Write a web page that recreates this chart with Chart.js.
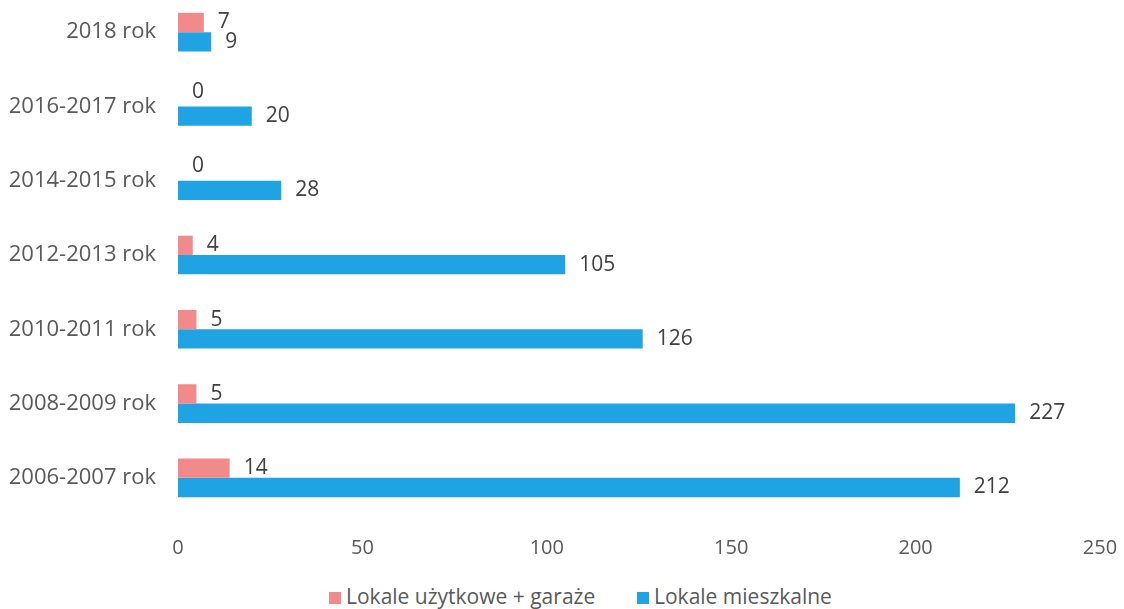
<!DOCTYPE html>
<html>
<head>
<meta charset="utf-8">
<script src="https://cdn.jsdelivr.net/npm/chart.js@4/dist/chart.umd.min.js"></script>
<style>
  html, body { margin: 0; padding: 0; background: #fff; overflow: hidden; }
  #wrap { position: absolute; left: 0; top: -5px; width: 1124px; height: 580px; }
  .leg { position: absolute; top: 584px; font: 21px 'Open Sans', sans-serif; color: #595959; line-height: 24px; white-space: nowrap; }
  .kw { position: absolute; width: 12px; height: 12px; top: 592px; }
</style>
</head>
<body>
<div id="wrap"><canvas id="grafico"></canvas></div>
<div id="legenda"></div>
<script>
const kategorie = ['2018 rok', '2016-2017 rok', '2014-2015 rok', '2012-2013 rok', '2010-2011 rok', '2008-2009 rok', '2006-2007 rok']
const uzytkowe = [7, 0, 0, 4, 5, 5, 14]
const mieszkalne = [9, 20, 28, 105, 126, 227, 212]
const osX = [0, 50, 100, 150, 200, 250]

const kolory = ['#f2898a', '#1fa3e2']
const szary = '#595959'
const czcionka = "'Open Sans', sans-serif"

// etykiety z wartosciami przy koncu slupkow
const etykiety = {
    id: 'etykiety',
    afterDatasetsDraw(chart) {
        const ctx = chart.ctx
        ctx.save()
        ctx.font = '21px ' + czcionka
        ctx.fillStyle = '#404040'
        ctx.textBaseline = 'middle'
        chart.data.datasets.forEach((ds, i) => {
            chart.getDatasetMeta(i).data.forEach((bar, j) => {
                const y = ds.data[j] === 0 ? bar.y - 5 : bar.y
                ctx.fillText(String(ds.data[j]), bar.x + 14, y)
            })
        })
        ctx.restore()
    }
}

const ctx = document.getElementById('grafico').getContext('2d')
const wykres = new Chart(ctx, {
    type: 'bar',
    data: {
        labels: kategorie,
        datasets: [{
            label: 'Lokale użytkowe + garaże',
            data: uzytkowe,
            backgroundColor: kolory[0],
            categoryPercentage: 0.52,
            barPercentage: 1
        }, {
            label: 'Lokale mieszkalne',
            data: mieszkalne,
            backgroundColor: kolory[1],
            categoryPercentage: 0.52,
            barPercentage: 1
        }]
    },
    options: {
        indexAxis: 'y',
        responsive: true,
        maintainAspectRatio: false,
        animation: false,
        layout: {
            padding: { left: 0, right: 24, top: 0, bottom: 14 }
        },
        plugins: {
            legend: { display: false },
            tooltip: { enabled: false }
        },
        scales: {
            x: {
                min: 0,
                max: 250,
                afterBuildTicks: axis => { axis.ticks = osX.map(v => ({ value: v })) },
                afterFit: axis => {
                    axis.height = 46
                    axis.paddingLeft = 0
                    axis.paddingRight = 0
                },
                grid: { display: false },
                border: { display: false },
                ticks: {
                    color: szary,
                    padding: 13,
                    maxRotation: 0,
                    font: { family: czcionka, size: 20 }
                }
            },
            y: {
                afterFit: axis => {
                    axis.width = 178
                    axis.paddingTop = 0
                    axis.paddingBottom = 0
                },
                grid: { display: false },
                border: { display: false },
                ticks: {
                    color: szary,
                    padding: 14,
                    font: { family: czcionka, size: 22 }
                }
            }
        }
    },
    plugins: [etykiety]
})

// legenda pod wykresem
const legenda = document.getElementById('legenda')
const pozycje = [329, 637]
wykres.data.datasets.forEach((ds, i) => {
    const kw = document.createElement('div')
    kw.className = 'kw'
    kw.style.left = pozycje[i] + 'px'
    kw.style.background = kolory[i]
    legenda.appendChild(kw)
    const t = document.createElement('div')
    t.className = 'leg'
    t.style.left = (pozycje[i] + 17) + 'px'
    t.textContent = ds.label
    legenda.appendChild(t)
})
</script>
</body>
</html>
